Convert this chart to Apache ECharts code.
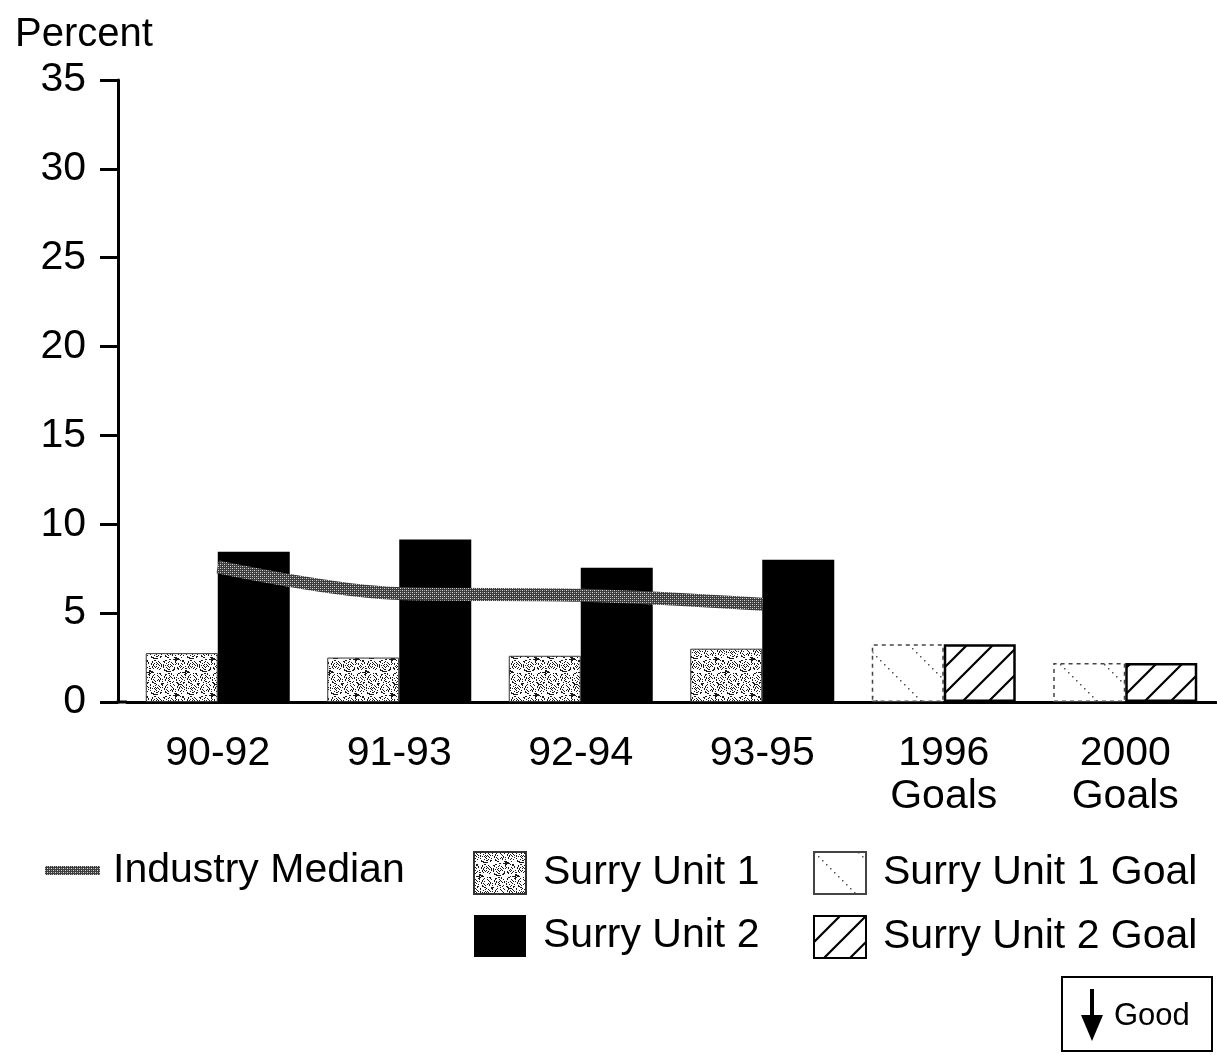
<!DOCTYPE html>
<html>
<head>
<meta charset="utf-8">
<script src="https://cdn.jsdelivr.net/npm/echarts@6/dist/echarts.min.js"></script>
<style>
  html, body { margin: 0; padding: 0; background: #fff; }
  #chart { width: 1217px; height: 1055px; }
</style>
</head>
<body>
<div id="chart"></div>
<script>
// Categories and values (percent)
const categories = ['90-92', '91-93', '92-94', '93-95', '1996\nGoals', '2000\nGoals'];
const industryMedian = [7.6, 6.1, 6.0, 5.5, '-', '-'];
const surryUnit1 = [2.75, 2.5, 2.6, 3.0, '-', '-'];
const surryUnit2 = [8.45, 9.15, 7.55, 8.0, '-', '-'];
const surryUnit1Goal = ['-', '-', '-', '-', 3.25, 2.2];
const surryUnit2Goal = ['-', '-', '-', '-', 3.25, 2.2];
const yTicks = [0, 5, 10, 15, 20, 25, 30, 35];

const FONT = '"Liberation Sans", Arial, Helvetica, sans-serif';

// --- fill textures ---
function makeCanvas(w, h) {
  const c = document.createElement('canvas');
  c.width = w; c.height = h;
  return c;
}

// halftone grey for the median line
function halftone() {
  const c = makeCanvas(4, 4);
  const g = c.getContext('2d');
  g.fillStyle = '#3c3c3c';
  g.fillRect(0, 0, 4, 4);
  g.fillStyle = '#d8d8d8';
  g.fillRect(0, 0, 1, 1);
  g.fillRect(2, 2, 1, 1);
  g.fillStyle = '#9a9a9a';
  g.fillRect(2, 0, 1, 1);
  g.fillRect(0, 2, 1, 1);
  return c;
}

// stipple for Unit 1 bars
function stipple() {
  const c = makeCanvas(36, 36);
  const g = c.getContext('2d');
  g.fillStyle = '#ffffff';
  g.fillRect(0, 0, 36, 36);
  g.fillStyle = '#1a1a1a';
  for (let y = 0; y < 36; y++) {
    for (let x = 0; x < 36; x++) {
      const k = (x * 37 + y * 61 + (x * y) % 13) % 17;
      if (k < 4) g.fillRect(x, y, 1, 1);
    }
  }
  return c;
}

// forward hatch for Unit 2 goals
function hatchForward() {
  const s = 26;
  const c = makeCanvas(s, s);
  const g = c.getContext('2d');
  g.fillStyle = '#fff';
  g.fillRect(0, 0, s, s);
  g.strokeStyle = '#000';
  g.lineWidth = 2.2;
  g.beginPath();
  g.moveTo(-2, s + 2); g.lineTo(s + 2, -2);
  g.moveTo(-2, 2); g.lineTo(2, -2);
  g.moveTo(s - 2, s + 2); g.lineTo(s + 2, s - 2);
  g.stroke();
  return c;
}

// faint dotted back hatch for Unit 1 goals
function hatchBack() {
  const s = 44;
  const c = makeCanvas(s, s);
  const g = c.getContext('2d');
  g.fillStyle = '#fff';
  g.fillRect(0, 0, s, s);
  g.fillStyle = '#555';
  for (let i = 0; i < s; i += 4) {
    g.fillRect(i, i, 1.5, 1.5);
  }
  return c;
}

const linePattern = { image: halftone(), repeat: 'repeat' };
const unit1Pattern = { image: stipple(), repeat: 'repeat' };
const unit2GoalPattern = { image: hatchForward(), repeat: 'repeat' };
const unit1GoalPattern = { image: hatchBack(), repeat: 'repeat' };

const chart = echarts.init(document.getElementById('chart'), null, { renderer: 'canvas' });

const legendText = { fontFamily: FONT, fontSize: 41, color: '#000', padding: [0, 0, 0, 12] };

const option = {
  backgroundColor: '#fff',
  animation: false,
  title: {
    text: 'Percent',
    left: 10,
    top: 10,
    textStyle: { fontFamily: FONT, fontSize: 40, fontWeight: 'normal', color: '#000' }
  },
  grid: { left: 127, right: 1, top: 80, bottom: 353, containLabel: false },
  legend: [
    {
      data: ['Industry Median'],
      icon: 'rect',
      left: 40, top: 845,
      itemWidth: 55, itemHeight: 9,
      textStyle: { fontFamily: FONT, fontSize: 41, color: '#000', padding: [0, 0, 0, 8] },
      selectedMode: false
    },
    {
      data: ['Surry Unit 1', 'Surry Unit 2'],
      icon: 'rect',
      orient: 'vertical',
      left: 468, top: 846,
      itemWidth: 52, itemHeight: 42, itemGap: 20,
      textStyle: legendText,
      selectedMode: false
    },
    {
      data: ['Surry Unit 1 Goal', 'Surry Unit 2 Goal'],
      icon: 'rect',
      orient: 'vertical',
      left: 808, top: 846,
      itemWidth: 52, itemHeight: 42, itemGap: 20,
      textStyle: legendText,
      selectedMode: false
    }
  ],
  xAxis: {
    type: 'category',
    data: categories,
    axisLine: { lineStyle: { color: '#000', width: 3 } },
    axisTick: { alignWithLabel: true, length: 18, lineStyle: { color: '#000', width: 3 } },
    axisLabel: {
      fontFamily: FONT, fontSize: 41, color: '#000', margin: 30, lineHeight: 43
    },
    splitLine: { show: false }
  },
  yAxis: {
    type: 'value',
    min: yTicks[0],
    max: yTicks[yTicks.length - 1],
    interval: 5,
    offset: 9,
    axisLine: { show: true, lineStyle: { color: '#000', width: 3 } },
    axisTick: { show: true, length: 18, lineStyle: { color: '#000', width: 3 } },
    axisLabel: { fontFamily: FONT, fontSize: 41, color: '#000', margin: 32 },
    splitLine: { show: false }
  },
  series: [
    {
      name: 'Surry Unit 1',
      type: 'bar',
      stack: 'u1',
      data: surryUnit1,
      barWidth: 72,
      barGap: '0%',
      itemStyle: { color: unit1Pattern, borderColor: '#333', borderWidth: 1 }
    },
    {
      name: 'Surry Unit 2',
      type: 'bar',
      stack: 'u2',
      data: surryUnit2,
      barWidth: 72,
      barGap: '0%',
      itemStyle: { color: '#000' }
    },
    {
      name: 'Surry Unit 1 Goal',
      type: 'bar',
      stack: 'u1',
      data: surryUnit1Goal,
      barWidth: 72,
      barGap: '0%',
      itemStyle: { color: unit1GoalPattern, borderColor: '#444', borderWidth: 1.5, borderType: [4, 4] }
    },
    {
      name: 'Surry Unit 2 Goal',
      type: 'bar',
      stack: 'u2',
      data: surryUnit2Goal,
      barWidth: 72,
      barGap: '0%',
      itemStyle: { color: unit2GoalPattern, borderColor: '#000', borderWidth: 2.5 }
    },
    {
      name: 'Industry Median',
      type: 'line',
      data: industryMedian,
      smooth: 0.35,
      symbol: 'none',
      z: 5,
      lineStyle: { color: linePattern, width: 13 },
      itemStyle: { color: linePattern }
    }
  ],
  graphic: [
    {
      type: 'group',
      right: 4,
      bottom: 3,
      children: [
        { type: 'rect', shape: { x: 0, y: 0, width: 150, height: 74 },
          style: { fill: '#fff', stroke: '#000', lineWidth: 2 } },
        { type: 'line', shape: { x1: 30, y1: 12, x2: 30, y2: 46 },
          style: { stroke: '#000', lineWidth: 4 } },
        { type: 'polygon', shape: { points: [[19, 38], [41, 38], [30, 64]] },
          style: { fill: '#000' } },
        { type: 'text', x: 52, y: 39,
          style: { text: 'Good', font: '31px ' + FONT, fill: '#000', verticalAlign: 'middle' } }
      ]
    }
  ]
};

chart.setOption(option);

// join the x axis line to the offset y axis line
const origin = chart.convertToPixel({ gridIndex: 0 }, [0, 0]);
const gridLeft = 127;
chart.setOption({
  graphic: [
    option.graphic[0],
    { type: 'line', shape: { x1: gridLeft - 9 - 1.5, y1: origin[1], x2: gridLeft, y2: origin[1] },
      style: { stroke: '#000', lineWidth: 3 }, z: 10 }
  ]
});
</script>
</body>
</html>
